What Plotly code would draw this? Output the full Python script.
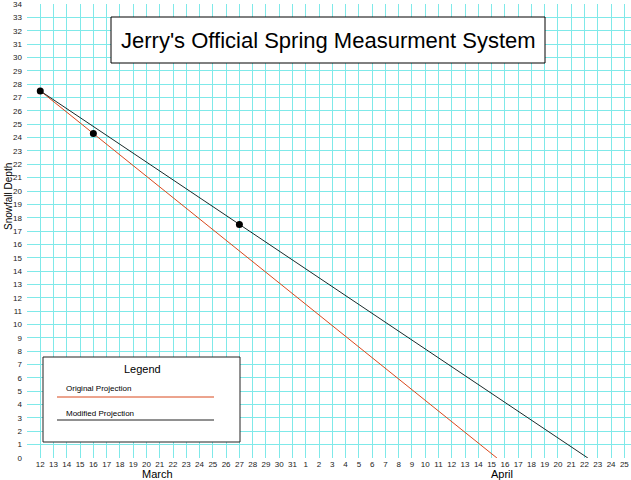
import plotly.graph_objects as go

# day labels along the bottom: March 12..31 then April 1..25
march_days = list(range(12, 32))
april_days = list(range(1, 26))
day_labels = [str(d) for d in march_days + april_days]

# measured snowfall depth (day index from March 12, depth)
measured_idx = [0, 4, 15]          # Mar 12, Mar 16, Mar 27
measured_depth = [27.5, 24.3, 17.5]

# projections: start at first reading, run down to zero
original_idx = [0, 4, 34.4]
original_depth = [27.5, 24.3, 0]
modified_idx = [0, 15, 41.25]
modified_depth = [27.5, 17.5, 0]

y_ticks = list(range(0, 35))

FONT = "Liberation Sans, Arial, Helvetica, sans-serif"
GRID = "#7fe9e9"

fig = go.Figure()

fig.add_trace(go.Scatter(x=original_idx, y=original_depth, mode="lines",
                         line=dict(color="#d9481c", width=1), hoverinfo="skip"))
fig.add_trace(go.Scatter(x=modified_idx, y=modified_depth, mode="lines",
                         line=dict(color="#1a2a2a", width=1), hoverinfo="skip"))
fig.add_trace(go.Scatter(x=measured_idx, y=measured_depth, mode="markers",
                         marker=dict(color="black", size=7)))


def px_x(px):
    return (px - 27) / 604


def px_y(py):
    return (458 - py) / 454


def note(text, x, y, size, **kw):
    fig.add_annotation(text=text, xref="paper", yref="paper", x=px_x(x), y=px_y(y),
                       showarrow=False, yanchor="middle", xanchor=kw.pop("xanchor", "center"),
                       font=dict(size=size, color="black", family=FONT), **kw)


# title box
fig.add_shape(type="rect", xref="paper", yref="paper",
              x0=px_x(111), x1=px_x(545), y0=px_y(63), y1=px_y(17),
              fillcolor="white", line=dict(color="black", width=1), layer="above")
note("Jerry's Official Spring Measurment System", 328, 41, 22)

# hand-drawn legend box
fig.add_shape(type="rect", xref="paper", yref="paper",
              x0=px_x(43), x1=px_x(240), y0=px_y(442), y1=px_y(357),
              fillcolor="white", line=dict(color="#222", width=1), layer="above")
fig.add_shape(type="line", xref="paper", yref="paper",
              x0=px_x(57), x1=px_x(214), y0=px_y(397), y1=px_y(397),
              line=dict(color="#d9481c", width=1), layer="above")
fig.add_shape(type="line", xref="paper", yref="paper",
              x0=px_x(57), x1=px_x(214), y0=px_y(420), y1=px_y(420),
              line=dict(color="#222", width=1), layer="above")
note("Legend", 142, 369, 11)
note("Original Projection", 64, 388, 8, xanchor="left")
note("Modified Projection", 64, 413, 8, xanchor="left")

# axis titles
note("Snowfall Depth", 8, 197, 10, textangle=-90)
note("March", 157, 474, 11)
note("April", 502, 474, 11)

fig.update_xaxes(range=[-1, 44.5], tickmode="array",
                 tickvals=list(range(-1, 45)), ticktext=[""] + day_labels,
                 showgrid=True, gridcolor=GRID, gridwidth=1, zeroline=False,
                 showline=False, ticks="", automargin=False,
                 tickfont=dict(size=8, color="#222", family=FONT))
fig.update_yaxes(range=[0, 34.01], tickmode="array", tickvals=y_ticks,
                 showgrid=True, gridcolor=GRID, gridwidth=1, zeroline=False,
                 showline=False, ticks="", automargin=False, ticklabelstandoff=4,
                 ticklabeloverflow="allow",
                 tickfont=dict(size=8, color="#222", family=FONT))

fig.update_layout(width=631, height=480, showlegend=False,
                  margin=dict(l=27, r=0, t=4, b=22),
                  plot_bgcolor="white", paper_bgcolor="white",
                  font=dict(family=FONT))

# drop the browser's default body margin so the figure sits at the page corner
fig.write_html("out.html", config={"displayModeBar": False},
               post_script="document.body.style.margin='0';")
